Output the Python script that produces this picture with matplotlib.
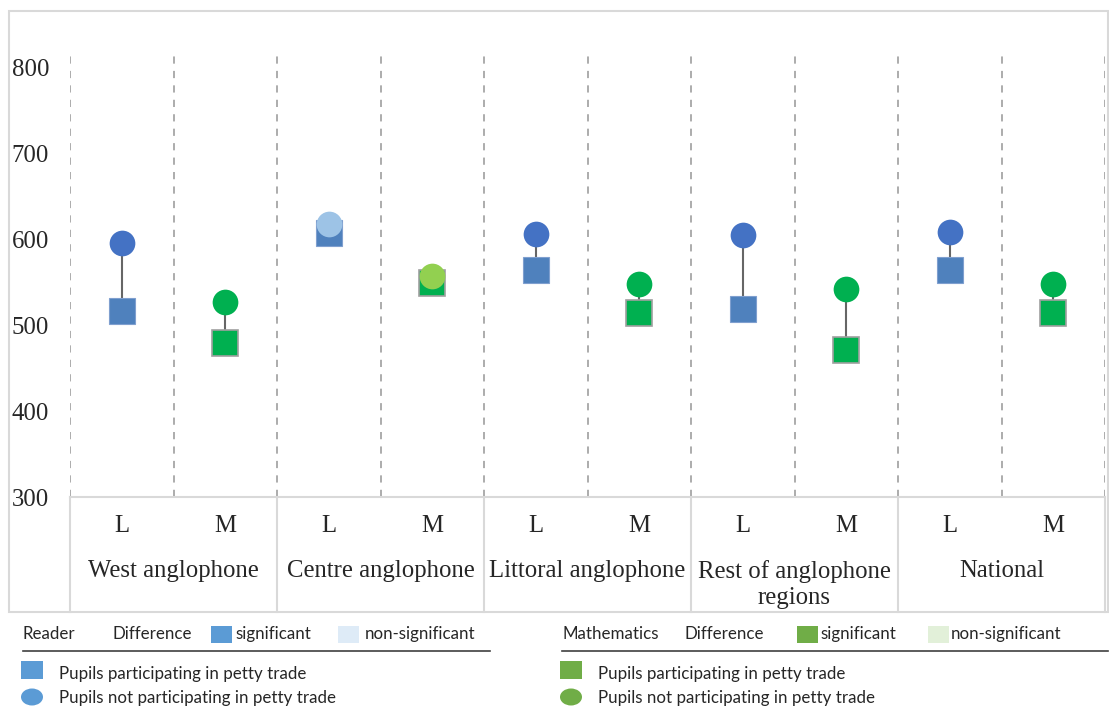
import matplotlib
matplotlib.use("Agg")
import matplotlib.pyplot as plt
import matplotlib.transforms as mtransforms
from matplotlib.patches import Rectangle, Ellipse
from matplotlib.lines import Line2D

# ---------------- data ----------------
regions = ["West anglophone", "Centre anglophone", "Littoral anglophone",
           "Rest of anglophone\nregions", "National"]
subjects = ["L", "M"]
reader_trade = [517, 608, 564, 519, 565]
reader_notrade = [596, 618, 607, 605, 609]
math_trade = [480, 549, 514, 471, 514]
math_notrade = [527, 557, 548, 542, 548]
reader_significant = [True, False, True, True, True]
math_significant = [True, False, True, True, True]
yticks = [300, 400, 500, 600, 700, 800]

# ---------------- style ----------------
W, H = 1109, 707
DPI = 100
SERIF = "Liberation Serif"
SANS = ["Lato", "DejaVu Sans"]

C_BLUE_SQ = "#4F81BD"
C_BLUE_CI = "#4472C4"
C_BLUE_CI_NS = "#9DC3E6"
C_GREEN_SQ = "#00B050"
C_GREEN_CI = "#00B050"
C_GREEN_CI_NS = "#92D050"
GRID = "#A6A6A6"
FRAME = "#D9D9D9"
TFS = 17.8

fig = plt.figure(figsize=(W / DPI, H / DPI), dpi=DPI)


def fx(px):
    return px / W


def fy(py):
    return 1 - py / H


ax_left, ax_right, ax_top, ax_bottom = 70, 1105, 50, 497
ax = fig.add_axes([fx(ax_left), fy(ax_bottom), fx(ax_right - ax_left),
                   (ax_bottom - ax_top) / H])
n = len(regions) * 2
ax.set_xlim(-0.5, n - 0.5)
ax.set_ylim(300, 300 + (ax_bottom - ax_top) / 0.858)
for s in ax.spines.values():
    s.set_visible(False)
ax.set_xticks([])
ax.set_yticks(yticks)
ax.set_yticklabels([str(t) for t in yticks], fontsize=TFS, fontfamily=SERIF,
                   color="#262626")
ax.tick_params(axis="y", length=0, pad=15)

# dashed vertical separators
for k in range(n + 1):
    ax.axvline(k - 0.5, color=GRID, lw=1.3, ls=(0, (4, 4)), zorder=1)
# baseline
ax.axhline(300, color=FRAME, lw=1.5, zorder=1, clip_on=False)

ms = 18.5
for i in range(len(regions)):
    xl = 2 * i
    xm = 2 * i + 1
    # reader
    ax.plot([xl, xl], [reader_trade[i], reader_notrade[i]], color="#666666",
            lw=1.5, zorder=2)
    ax.plot(xl, reader_trade[i], marker="s", ms=ms, color=C_BLUE_SQ,
            mec="#7F9FCF", mew=0.8, zorder=3)
    ax.plot(xl, reader_notrade[i], marker="o", ms=ms,
            color=C_BLUE_CI if reader_significant[i] else C_BLUE_CI_NS,
            mec="none", zorder=4)
    # maths
    ax.plot([xm, xm], [math_trade[i], math_notrade[i]], color="#666666",
            lw=1.5, zorder=2)
    ax.plot(xm, math_trade[i], marker="s", ms=ms, color=C_GREEN_SQ,
            mec="#A0A0A0", mew=1.2, zorder=3)
    ax.plot(xm, math_notrade[i], marker="o", ms=ms,
            color=C_GREEN_CI if math_significant[i] else C_GREEN_CI_NS,
            mec="none", zorder=4)

# category axis below
trans = mtransforms.blended_transform_factory(ax.transData, fig.transFigure)
for k in range(0, n + 1, 2):
    fig.add_artist(Line2D([k - 0.5, k - 0.5], [fy(497), fy(612)],
                          transform=trans, color=FRAME, lw=1.5))
for i, r in enumerate(regions):
    for j, s in enumerate(subjects):
        fig.text(2 * i + j, fy(526), s, transform=trans, ha="center",
                 va="center", fontsize=TFS, fontfamily=SERIF, color="#262626")
    fig.text(2 * i + 0.5, fy(560), r, transform=trans, ha="center",
             va="top", fontsize=TFS, fontfamily=SERIF, color="#262626",
             linespacing=1.22)

# outer frame
fig.add_artist(Rectangle((fx(9), fy(612)), fx(1108 - 9), (612 - 11) / H,
                         transform=fig.transFigure, fill=False,
                         ec=FRAME, lw=1.5))

# ---------------- legend ----------------
LFS = 12.2
LCOL = "#262626"


def ltext(x, y, s):
    fig.text(fx(x), fy(y), s, ha="left", va="center", fontsize=LFS,
             fontfamily=SANS, color=LCOL)


def lpatch(x0, x1, y0, y1, c):
    fig.add_artist(Rectangle((fx(x0), fy(y1)), fx(x1 - x0), (y1 - y0) / H,
                             transform=fig.transFigure, fc=c, ec="none"))


def lellipse(cx, cy, w, h, c):
    fig.add_artist(Ellipse((fx(cx), fy(cy)), fx(w), h / H,
                           transform=fig.transFigure, fc=c, ec="none"))


groups = [
    (23, "Reader", 112, 211, 235, 338, 365, 490, "#5B9BD5", "#DEEBF7"),
    (562, "Mathematics", 685, 797, 820, 928, 951, 1108, "#70AD47", "#E2F0D9"),
]
for (x0, name, xd, xp1, xs, xp2, xns, xend, c1, c2) in groups:
    ltext(x0, 634, name)
    ltext(xd, 634, "Difference")
    lpatch(xp1, xp1 + 21, 626, 643, c1)
    ltext(xs, 634, "significant")
    lpatch(xp2, xp2 + 21, 626, 643, c2)
    ltext(xns, 634, "non-significant")
    fig.add_artist(Line2D([fx(x0), fx(xend)], [fy(651), fy(651)],
                          transform=fig.transFigure, color="#404040", lw=1.2))
    lpatch(x0 - 2, x0 + 20, 661, 679, c1)
    ltext(x0 + 36, 674, "Pupils participating in petty trade")
    lellipse(x0 + 9, 697, 22, 17, c1)
    ltext(x0 + 36, 698, "Pupils not participating in petty trade")

fig.savefig("out.png", dpi=DPI)
